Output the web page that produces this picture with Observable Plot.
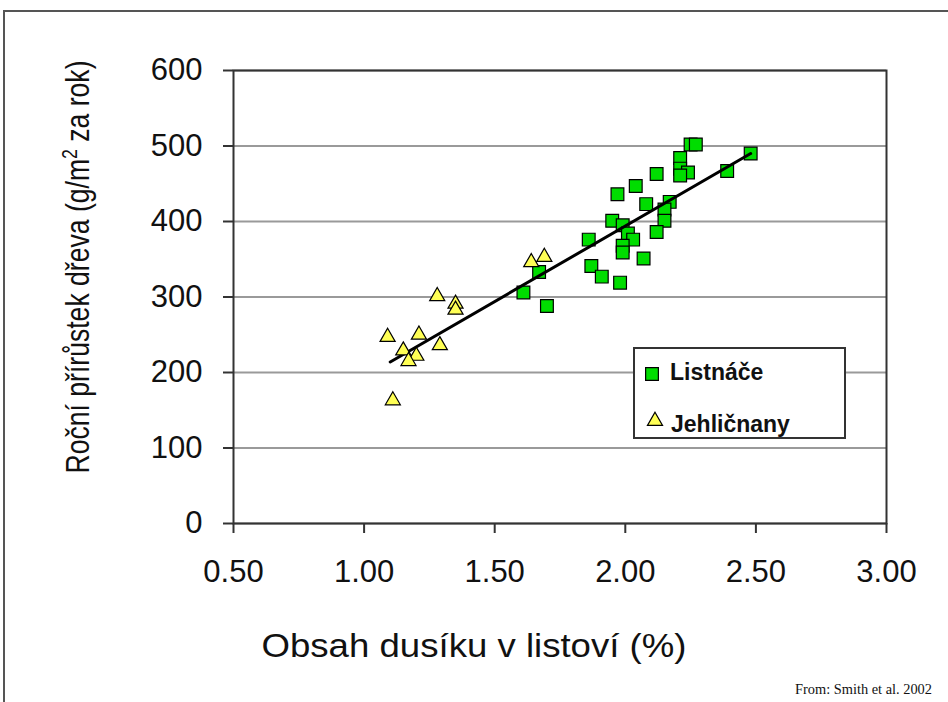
<!DOCTYPE html>
<html>
<head>
<meta charset="utf-8">
<script src="https://cdn.jsdelivr.net/npm/d3@7"></script>
<script src="https://cdn.jsdelivr.net/npm/@observablehq/plot@0.6"></script>
<style>
  html, body { margin: 0; padding: 0; background: #fff; }
  #wrap { position: relative; width: 948px; height: 702px; overflow: hidden; font-family: "Liberation Sans", Arial, sans-serif; }
  #frame { position: absolute; left: 3px; top: 10px; width: 960px; height: 720px; border-left: 2px solid #555; border-top: 2px solid #555; }
  #chart { position: absolute; left: 0; top: 0; }
  #overlay { position: absolute; left: 0; top: 0; }
</style>
</head>
<body>
<div id="wrap">
  <div id="frame"></div>
  <div id="chart"></div>
  <svg id="overlay" width="948" height="702"></svg>
</div>
<script>
// ---- data ----
const listnaceX = [2.25, 2.27, 2.48, 2.21, 2.21, 2.24, 2.21, 2.39, 2.12, 2.04, 1.97, 2.08, 2.17, 2.15, 2.15, 1.95, 1.99, 2.01, 2.03, 2.12, 1.99, 1.99, 2.07, 1.86, 1.87, 1.91, 1.98, 1.67, 1.61, 1.70];
const listnaceY = [502, 502, 490, 484, 470, 465, 461, 467, 463, 447, 436, 423, 426, 416, 401, 401, 395, 384, 376, 386, 368, 359, 351, 376, 341, 327, 319, 333, 306, 288];
const jehlX = [1.64, 1.69, 1.28, 1.35, 1.35, 1.09, 1.21, 1.29, 1.15, 1.20, 1.17, 1.11];
const jehlY = [346, 353, 301, 291, 283, 247, 250, 236, 229, 222, 215, 163];
const trendX = [1.10, 2.48];
const trendY = [214, 490];
const xTicks = [0.5, 1.0, 1.5, 2.0, 2.5, 3.0];
const yTicks = [0, 100, 200, 300, 400, 500, 600];
const seriesNames = ["Listnáče", "Jehličnany"];
const xTitle = "Obsah dusíku v listoví (%)";
const yTitleMain = "Roční přírůstek dřeva (g/m";
const yTitleSup = "2";
const yTitleEnd = " za rok)";
const caption = "From: Smith et al. 2002";

const listnace = listnaceX.map((x, i) => ({x, y: listnaceY[i]}));
const jehl = jehlX.map((x, i) => ({x, y: jehlY[i]}));
const trend = trendX.map((x, i) => ({x, y: trendY[i]}));

const GREEN = "#00dd00";
const YELLOW = "#ffff55";
const TRI_R = 5.6;
const SQ_R = 7.2;

const plot = Plot.plot({
  width: 948,
  height: 702,
  marginLeft: 233,
  marginRight: 62,
  marginTop: 70,
  marginBottom: 179,
  style: { fontFamily: "Liberation Sans, Arial, sans-serif", color: "#111", background: "transparent" },
  x: { domain: [0.5, 3.0] },
  y: { domain: [0, 600] },
  marks: [
    Plot.gridY(yTicks, { stroke: "#9a9a9a", strokeOpacity: 1, strokeWidth: 2 }),
    Plot.frame({ stroke: "#333", strokeWidth: 2 }),
    Plot.axisY(yTicks, { tickSize: 10, tickPadding: 21, fontSize: 31, label: null, stroke: "#333", strokeWidth: 2 }),
    Plot.axisX(xTicks, { tickSize: 10, tickPadding: 26, fontSize: 31, label: null, tickFormat: d3.format(".2f"), stroke: "#333", strokeWidth: 2 }),
    Plot.dot(listnace, { x: "x", y: "y", symbol: "square", r: SQ_R, fill: GREEN, stroke: "#000", strokeWidth: 1.2 }),
    Plot.line(trend, { x: "x", y: "y", stroke: "#000", strokeWidth: 3 }),
    Plot.dot(jehl, { x: "x", y: "y", symbol: "triangle", r: TRI_R, fill: YELLOW, stroke: "#000", strokeWidth: 1.2 })
  ]
});
document.getElementById("chart").appendChild(plot);

// ---- titles, legend, caption ----
const ov = d3.select("#overlay");
ov.append("text")
  .attr("x", 474).attr("y", 657)
  .attr("text-anchor", "middle")
  .attr("font-family", "Liberation Sans, Arial, sans-serif")
  .attr("font-size", 33)
  .attr("fill", "#111")
  .attr("textLength", 425).attr("lengthAdjust", "spacingAndGlyphs")
  .text(xTitle);

const yt = ov.append("text")
  .attr("transform", "translate(89,267) rotate(-90)")
  .attr("text-anchor", "middle")
  .attr("font-family", "Liberation Sans, Arial, sans-serif")
  .attr("font-size", 33)
  .attr("fill", "#111")
  .attr("textLength", 413).attr("lengthAdjust", "spacingAndGlyphs");
yt.append("tspan").text(yTitleMain);
yt.append("tspan").attr("dy", -12).attr("font-size", 22).text(yTitleSup);
yt.append("tspan").attr("dy", 12).text(yTitleEnd);

// legend
const lg = ov.append("g");
lg.append("rect").attr("x", 634).attr("y", 348).attr("width", 211).attr("height", 90)
  .attr("fill", "#fff").attr("stroke", "#333").attr("stroke-width", 2);
lg.append("path").attr("d", d3.symbol(d3.symbolSquare, SQ_R * SQ_R * Math.PI)())
  .attr("transform", "translate(652,374)").attr("fill", GREEN).attr("stroke", "#000").attr("stroke-width", 1.2);
lg.append("path").attr("d", d3.symbol(d3.symbolTriangle, TRI_R * TRI_R * Math.PI)())
  .attr("transform", "translate(655,421)").attr("fill", YELLOW).attr("stroke", "#000").attr("stroke-width", 1.2);
lg.selectAll("text.l").data(seriesNames).join("text")
  .attr("x", (d, i) => i === 0 ? 670 : 671)
  .attr("y", (d, i) => i === 0 ? 380 : 432)
  .attr("font-family", "Liberation Sans, Arial, sans-serif")
  .attr("font-weight", "bold")
  .attr("font-size", 23)
  .attr("fill", "#111")
  .text(d => d);

ov.append("text")
  .attr("x", 932).attr("y", 694)
  .attr("text-anchor", "end")
  .attr("font-family", "Liberation Serif, Times New Roman, serif")
  .attr("font-size", 15)
  .attr("fill", "#111")
  .attr("textLength", 137).attr("lengthAdjust", "spacingAndGlyphs")
  .text(caption);
</script>
</body>
</html>
